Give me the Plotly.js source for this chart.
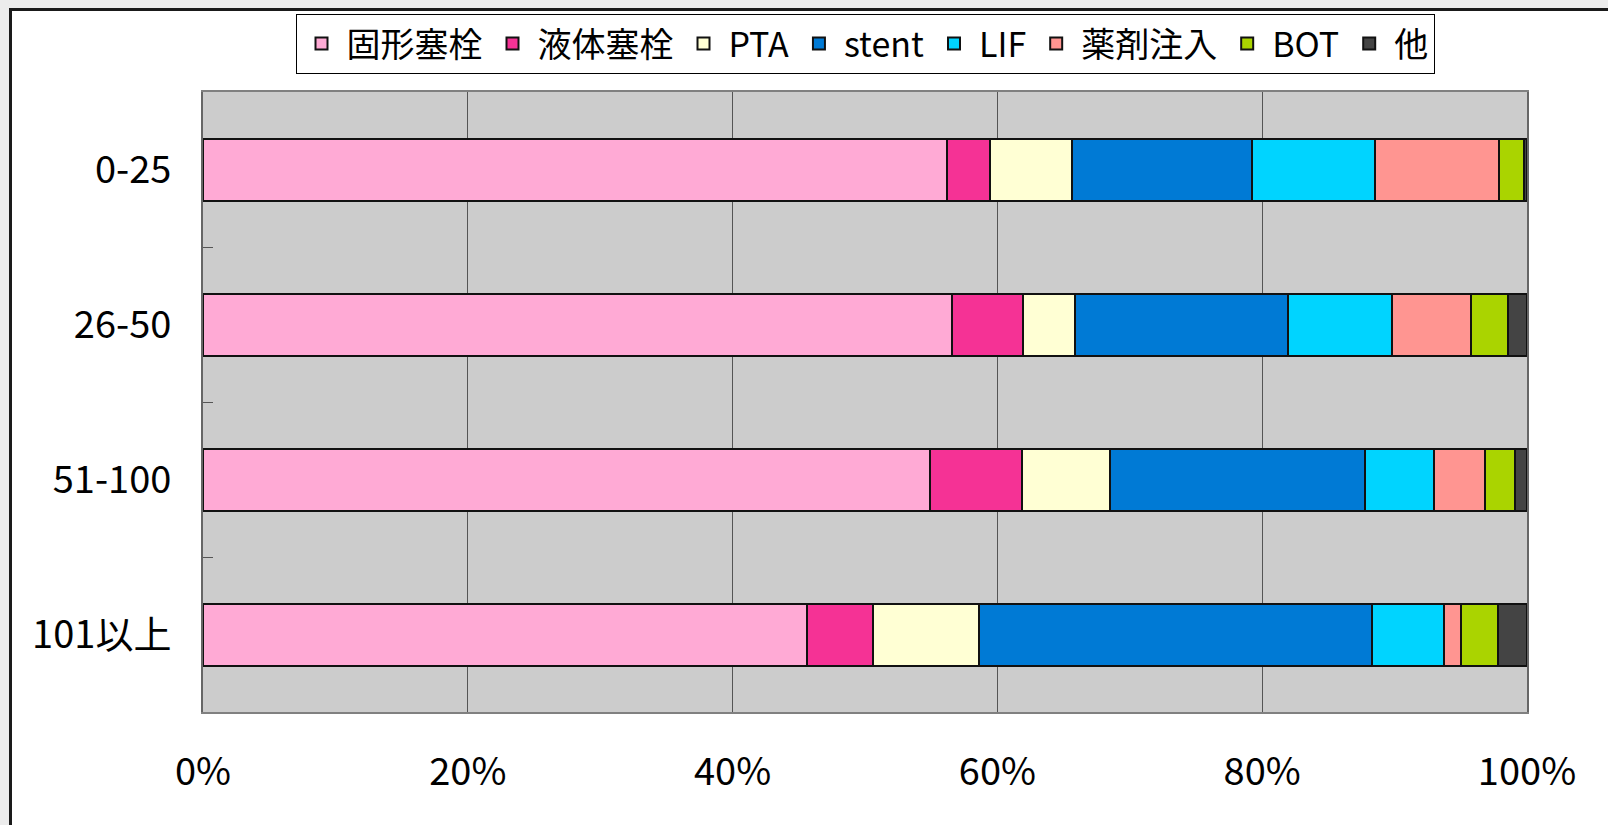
<!DOCTYPE html>
<html>
<head>
<meta charset="utf-8">
<script src="https://cdn.plot.ly/plotly-3.0.1.min.js"></script>
<style>
  html, body { margin: 0; padding: 0; background: #ececec; overflow: hidden; }
  #chart {
    position: absolute; left: 9px; top: 8px;
    width: 1596px; height: 814px;
    background: #fff;
    border-left: 3px solid #1a1a1a;
    border-top: 3px solid #1a1a1a;
  }
</style>
</head>
<body>
<div id="chart"></div>
<script>
// categories (top to bottom)
var groups = ['0-25', '26-50', '51-100', '101以上'];

// share of each treatment per group (%)
var solidEmbo  = [56.2, 56.6, 54.9, 45.6];
var liquidEmbo = [3.25, 5.35, 6.95, 5.0];
var pta        = [6.2, 3.9, 6.65, 8.0];
var stent      = [13.6, 16.1, 19.3, 29.7];
var lif        = [9.25, 7.85, 5.2, 5.4];
var drugInj    = [9.4, 5.95, 3.85, 1.3];
var bot        = [1.85, 2.8, 2.25, 2.8];
var other      = [0.25, 1.45, 0.9, 2.2];

var names  = ['固形塞栓', '液体塞栓', 'PTA', 'stent', 'LIF', '薬剤注入', 'BOT', '他'];
var series = [solidEmbo, liquidEmbo, pta, stent, lif, drugInj, bot, other];
var colors = ['#FFAAD5', '#F53295', '#FFFFD4', '#007AD5', '#00D4FF', '#FF9591', '#AAD400', '#444444'];

var font = 'Noto Sans CJK JP, Noto Sans, sans-serif';

var traces = series.map(function (vals, i) {
    return {
        type: 'bar',
        orientation: 'h',
        name: names[i],
        x: vals,
        y: groups,
        marker: {color: colors[i], line: {color: '#111', width: 2}},
        hoverinfo: 'name+x'
    };
});

var layout = {
    width: 1596,
    height: 814,
    margin: {l: 191, r: 81, t: 81, b: 113, autoexpand: false},
    paper_bgcolor: '#ffffff',
    plot_bgcolor: '#cccccc',
    barmode: 'stack',
    bargap: 0.6,
    font: {family: font, color: '#000'},
    showlegend: true,
    legend: {
        orientation: 'h',
        x: 0.5, xanchor: 'center',
        y: 1.1258, yanchor: 'top',
        traceorder: 'normal',
        itemwidth: 40,
        bgcolor: '#ffffff',
        bordercolor: '#000',
        borderwidth: 1,
        font: {size: 34, family: font}
    },
    xaxis: {
        range: [0, 100],
        dtick: 20,
        ticksuffix: '%',
        showgrid: true,
        gridcolor: '#555',
        gridwidth: 1,
        zeroline: false,
        showline: true,
        linecolor: '#808080',
        linewidth: 2,
        mirror: true,
        ticks: 'inside',
        ticklen: 10,
        tickcolor: '#555',
        ticklabelstandoff: 25,
        tickfont: {size: 38, family: font}
    },
    yaxis: {
        type: 'category',
        autorange: 'reversed',
        showgrid: false,
        zeroline: false,
        showline: true,
        linecolor: '#666',
        linewidth: 2,
        mirror: true,
        ticks: 'inside',
        tickson: 'boundaries',
        ticklen: 10,
        tickcolor: '#555',
        ticklabelstandoff: 22,
        tickfont: {size: 38, family: font}
    }
};

Plotly.newPlot('chart', traces, layout, {displayModeBar: false});
</script>
</body>
</html>
